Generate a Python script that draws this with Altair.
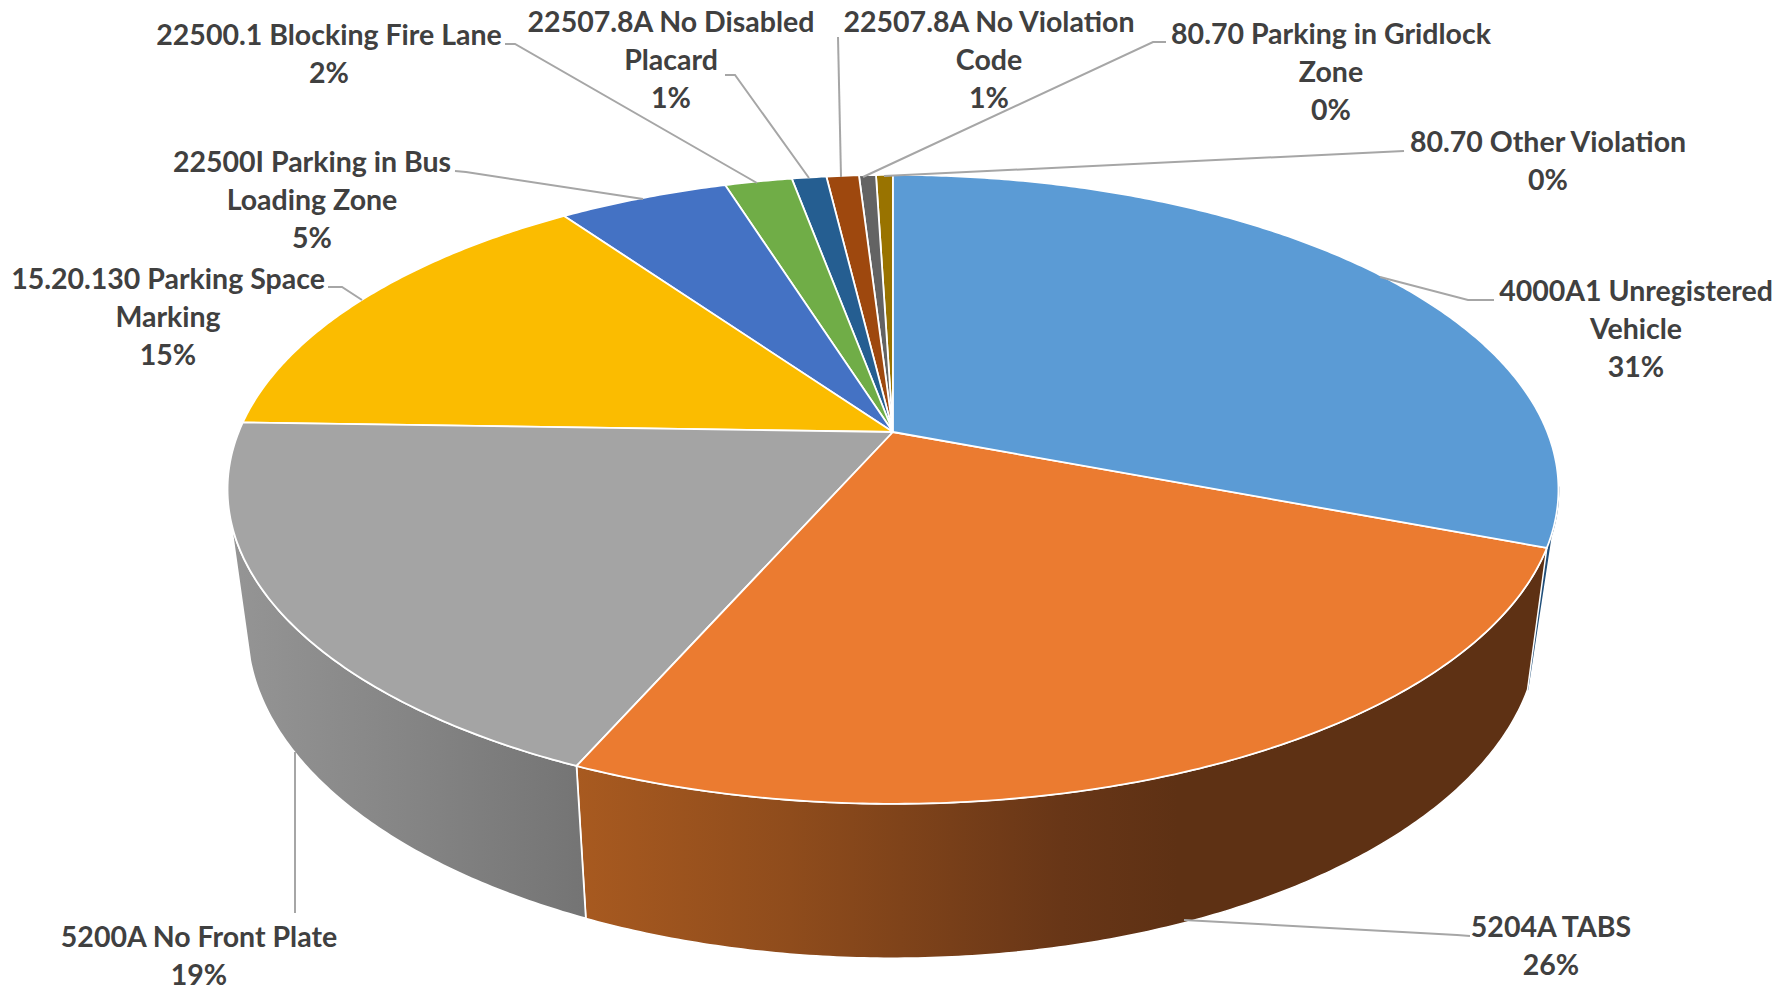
import math
import altair as alt
import pandas as pd

# ---- chart values -------------------------------------------------------
categories = [
    "4000A1 Unregistered Vehicle", "5204A TABS", "5200A No Front Plate",
    "15.20.130 Parking Space Marking", "22500I Parking in Bus Loading Zone",
    "22500.1 Blocking Fire Lane", "22507.8A No Disabled Placard",
    "22507.8A No Violation Code", "80.70 Parking in Gridlock Zone",
    "80.70 Other Violation",
]
label_lines = [
    ["4000A1 Unregistered", "Vehicle"], ["5204A TABS"], ["5200A No Front Plate"],
    ["15.20.130 Parking Space", "Marking"], ["22500I Parking in Bus", "Loading Zone"],
    ["22500.1 Blocking Fire Lane"], ["22507.8A No Disabled", "Placard"],
    ["22507.8A No Violation", "Code"], ["80.70 Parking in Gridlock", "Zone"],
    ["80.70 Other Violation"],
]
values = [30.8, 25.8, 18.9, 14.7, 4.93, 1.95, 1.0, 0.94, 0.49, 0.49]
colors = ["#5B9BD5", "#EB7B30", "#A4A4A4", "#FBBC00", "#4472C4",
          "#70AD47", "#255E91", "#9E480E", "#636363", "#997300"]

# ---- layout (page pixels) ----------------------------------------------
label_x = [1636, 1551, 199, 168, 312, 329, 671, 989, 1331, 1548]
label_y = [292, 928, 938, 280, 163, 36, 23, 23, 35, 143]
line_step = 38
leaders = [
    [(1380, 277), (1468, 300), (1494, 300)],
    [(1184, 920), (1457, 935), (1470, 936)],
    [(295, 752), (295, 913)],
    [(362, 300), (342, 287), (328, 287)],
    [(643, 199), (466, 172), (455, 171)],
    [(757, 183), (515, 44), (505, 44)],
    [(809, 178), (735, 75), (725, 75)],
    [(841, 177), (838, 37)],
    [(863, 177), (1153, 42), (1166, 42)],
    [(884, 176), (1404, 151)],
]
CX, TOP_Y, BOT_Y = 893, 432, 568
TOP_A, TOP_B, BOT_A, BOT_B, K = 654.3, 304, 635, 319, 0.1824

x_enc = alt.X("x:Q", axis=None, scale=alt.Scale(domain=[8, 1782]))
y_enc = alt.Y("y:Q", axis=None, scale=alt.Scale(domain=[986, 8]))


def rim(theta, cy, a, b):
    t = math.radians(theta)
    d = 1 + K * math.cos(t)
    return (CX + a * math.sin(t) / d, cy - b * math.cos(t) / d)


def arc(start, stop, cy, a, b):
    n = max(2, int(abs(stop - start) * 2) + 1)
    return [rim(start + (stop - start) * i / (n - 1), cy, a, b) for i in range(n)]


def shape(points, fill, stroke="white", width=1.8):
    df = pd.DataFrame(points, columns=["x", "y"])
    df["o"] = range(len(df))
    return alt.Chart(df).mark_line(
        fill=fill, stroke=stroke, strokeWidth=width, strokeJoin="round", interpolate="linear"
    ).encode(x=x_enc, y=y_enc, order=alt.Order("o:Q"))


total = sum(values)
edges = [0.0]
for v in values:
    edges.append(edges[-1] + v / total * 360)


def wall(top_start, bot_start, stop_top, stop_bot, fill, stroke="white", width=1.8):
    pts = arc(top_start, stop_top, TOP_Y, TOP_A, TOP_B) + arc(stop_bot, bot_start, BOT_Y, BOT_A, BOT_B)
    pts.append(pts[0])
    return shape(pts, fill, stroke, width)


def horizontal(stops):
    return alt.Gradient(
        gradient="linear", x1=0, x2=1, y1=0, y2=0,
        stops=[alt.GradientStop(offset=o, color=c) for o, c in stops],
    )


layers = [
    # dark blue sliver of the first slice
    wall(100, edges[1], edges[1], edges[1], "#1F4E79", "#1F4E79", 1.6),
    # brown wall of the second slice
    wall(edges[1], edges[1], edges[2], edges[2],
         horizontal([(0, "#A85A20"), (0.22, "#8F4C1C"), (0.5, "#683617"), (0.62, "#5E3114"), (1, "#5E3114")]),
         "white", 1.5),
    # grey wall of the third slice
    wall(edges[2], edges[2], 255, 254,
         horizontal([(0, "#959595"), (0.5, "#858585"), (1, "#747474")])),
]
for i in range(len(values) - 1, -1, -1):
    pts = [(CX, TOP_Y)] + arc(edges[i], edges[i + 1], TOP_Y, TOP_A, TOP_B) + [(CX, TOP_Y)]
    layers.append(shape(pts, colors[i]))

for seg in leaders:
    df = pd.DataFrame(seg, columns=["x", "y"])
    df["o"] = range(len(df))
    layers.append(alt.Chart(df).mark_line(stroke="#A6A6A6", strokeWidth=2).encode(
        x=x_enc, y=y_enc, order=alt.Order("o:Q")))

rows = []
for lines, v, lx, ly in zip(label_lines, values, label_x, label_y):
    for j, t in enumerate(lines + [f"{v / total * 100:.0f}%"]):
        rows.append({"x": lx, "y": ly + j * line_step, "t": t})
layers.append(alt.Chart(pd.DataFrame(rows)).mark_text(
    font="Lato", fontSize=28.5, fontWeight="bold", color="#404040", align="center", baseline="middle"
).encode(x=x_enc, y=y_enc, text="t:N"))

chart = alt.layer(*layers).properties(
    width=1774, height=978, padding=0, autosize=alt.AutoSizeParams(type="none"),
    background="white",
).configure_view(stroke=None)

chart.save("out.html", embed_options={"renderer": "svg", "actions": False})
